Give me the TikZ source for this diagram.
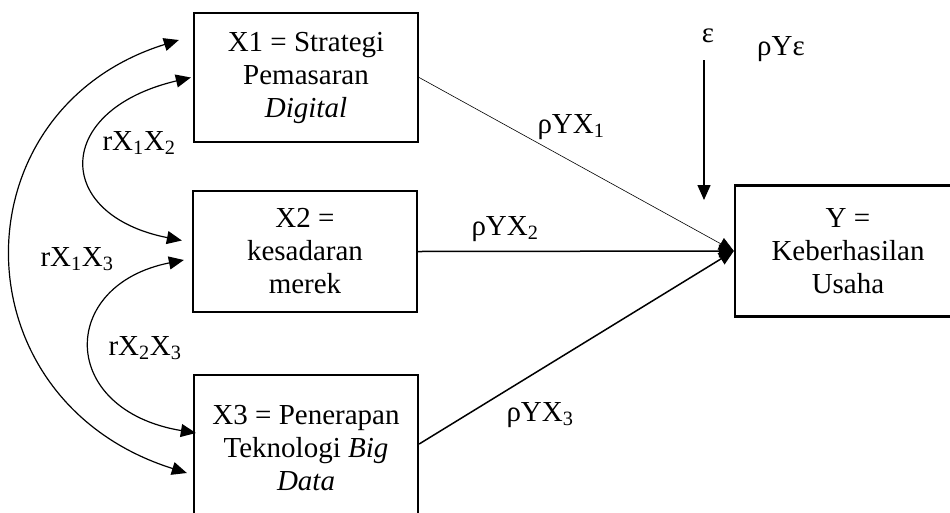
\documentclass[tikz,border=0pt]{standalone}
\usepackage{fontspec}
\setmainfont{Liberation Serif}
\usetikzlibrary{arrows.meta}
\begin{document}
\begin{tikzpicture}[x=1pt,y=-1pt,
  box/.style={draw,line width=2.3pt,rectangle,minimum width=224pt,align=center,inner sep=0pt,
    font=\fontsize{29}{33}\selectfont},
  lbl/.style={font=\fontsize{29}{33}\selectfont,inner sep=0pt,anchor=base},
  tip/.style={-{Triangle[length=15pt,width=13pt]}},
  conn/.style={line width=1.5pt,tip},
  curv/.style={line width=1.2pt,{Triangle[length=15pt,width=13pt]}-{Triangle[length=15pt,width=13pt]}}]
\useasboundingbox (0,0) rectangle (950,512);
\begin{scope}
\clip (0,0) rectangle (950,512);
\node[box,minimum height=129pt] (X1) at (306,77.5) {X1 = Strategi\\Pemasaran\\\textit{Digital}};
\node[box,minimum height=121pt] (X2) at (305,251.5) {X2 =\\kesadaran\\merek};
\node[box,minimum height=146pt] (X3) at (306,448) {X3 = Penerapan\\Teknologi \textit{Big}\\\textit{Data}};
\node[box,minimum width=226pt,minimum height=131pt] (Y) at (848,251) {Y =\\Keberhasilan\\Usaha};
\end{scope}

\draw[line width=0.6pt,tip] (X1.east) -- (Y.west);
\draw[conn] (X2.east) -- (Y.west);
\draw[conn] ([yshift=4pt]X3.east) -- (Y.west);

\node[lbl] (l1) at (571,133) {ρYX\textsubscript{1}};
\node[lbl] (l2) at (505,235) {ρYX\textsubscript{2}};
\node[lbl] (l3) at (540,421) {ρYX\textsubscript{3}};

\node[lbl] (eps) at (708,42) {ε};
\node[lbl] (rye) at (781,55) {ρYε};
\coordinate (etop) at (704,60);
\coordinate (etip) at (704,200);
\draw[conn] (etop) -- (etip);

% correlation curves
\coordinate (a1) at ([xshift=-2pt]X1.west);
\coordinate (a2) at ([xshift=-10pt,yshift=11pt]X2.west);
\coordinate (b1) at ([xshift=-14pt,yshift=37.5pt]X1.west);
\coordinate (b3) at ([xshift=-6pt,yshift=-25pt]X3.west);
\coordinate (c2) at ([xshift=-8pt,yshift=-8.5pt]X2.west);
\coordinate (c3) at ([xshift=3pt,yshift=15pt]X3.west);
\draw[curv] (a1) .. controls (53,110) and (53,215) .. (a2);
\draw[curv] (b1) .. controls (-45,110) and (-45,400) .. (b3);
\draw[curv] (c2) .. controls (58,285) and (58,410) .. (c3);

\node[lbl] (r12) at (139,150) {rX\textsubscript{1}X\textsubscript{2}};
\node[lbl] (r13) at (77,266) {rX\textsubscript{1}X\textsubscript{3}};
\node[lbl] (r23) at (145,355) {rX\textsubscript{2}X\textsubscript{3}};
\end{tikzpicture}
\end{document}
